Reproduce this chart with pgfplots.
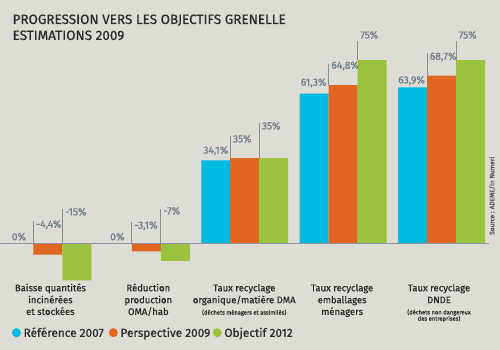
\documentclass[border=0pt]{standalone}
\usepackage{pgfplots}
\pgfplotsset{compat=1.18}
\usepackage{fontspec}
\setmainfont{Fira Sans}
\newfontfamily\medfont{Fira Sans}[FakeBold=0.5]
\newfontfamily\semfont{Fira Sans}[FakeBold=0.8]
\definecolor{bg}{HTML}{DDDCD5}
\definecolor{cyanb}{HTML}{00B9E0}
\definecolor{orangeb}{HTML}{E0651E}
\definecolor{greenb}{HTML}{9BC23C}
\definecolor{vlab}{HTML}{6F7F8C}
\definecolor{vline}{HTML}{8C8C8C}
\definecolor{zline}{HTML}{8A96A0}
\definecolor{txt}{HTML}{2B2B2B}
\newcommand\vlab[3]{\node[inner sep=0pt,anchor=west,text=vlab,font=\semfont\fontsize{10.3}{12}\selectfont] at (#1+2.5,{350-#2}) {#3};}
\newcommand\clab[3]{\node[inner sep=0pt,text=vlab,font=\semfont\fontsize{10.3}{12}\selectfont] at (#1,{350-#2}) {#3};}
\newcommand\vl[3]{\draw[vline,line width=0.8pt] (#1,{350-#2}) -- (#1,{350-#3});}
\newcommand\cat[3]{\node[inner sep=0pt,anchor=base,text=txt,font=\medfont\fontsize{9.5}{12}\selectfont] at (#1,{350-#2-3.5}) {#3};}
\newcommand\scat[3]{\node[inner sep=0pt,anchor=base,text=txt,font=\medfont\fontsize{5.8}{7}\selectfont] at (#1,{350-#2-2.1}) {#3};}
\begin{document}
\begin{tikzpicture}[x=1pt,y=1pt]
\fill[bg] (0,0) rectangle (500,350);
\begin{axis}[at={(47.5pt,106pt)}, anchor=origin, scale only axis,
  width=500pt, height=245pt,
  xmin=-0.4822, xmax=4.5939, ymin=-20, ymax=80,
  hide axis, clip=false, ybar, bar width=0.2944]
\addplot[fill=cyanb, draw=none, bar shift=-0.2944] coordinates {(0,0) (1,0) (2,34.1) (3,61.3) (4,63.9)};
\addplot[fill=orangeb, draw=none, bar shift=0] coordinates {(0,-4.4) (1,-3.1) (2,35) (3,64.8) (4,68.7)};
\addplot[fill=greenb, draw=none, bar shift=0.2944] coordinates {(0,-15) (1,-7) (2,35) (3,75) (4,75)};
\draw[zline, line width=0.9pt] (axis cs:-0.4822,0) -- (axis cs:4.482,0);
\end{axis}
% value labels
\clab{18.5}{237}{0\%}
\vl{33}{221.7}{244}\vlab{33}{225}{-4,4\%}
\vl{62}{209}{244}\vlab{62}{212}{-15\%}
\clab{117}{237}{0\%}
\vl{131.5}{222.7}{244}\vlab{131.5}{226}{-3,1\%}
\vl{160.5}{209}{244}\vlab{160.5}{211}{-7\%}
\clab{215.5}{151}{34,1\%}
\vl{230}{135.7}{158.3}\vlab{230}{139}{35\%}
\vl{259}{123}{158.3}\vlab{259}{126}{35\%}
\clab{313.5}{83}{61,3\%}
\vl{328.5}{64}{85.3}\vlab{328.5}{66}{64,8\%}
\vl{357.5}{41}{60}\vlab{357.5}{35}{75\%}
\clab{411.5}{80.7}{63,9\%}
\vl{427}{53}{76}\vlab{427}{57}{68,7\%}
\vl{456}{41}{60}\vlab{456}{35}{75\%}
% categories
\cat{50}{288}{Baisse quantités}
\cat{50}{300}{incinérées}
\cat{50}{311.7}{et stockées}
\cat{148}{288}{Réduction}
\cat{148}{300}{production}
\cat{148}{311.7}{OMA/hab}
\cat{244}{288}{Taux recyclage}
\cat{244}{300}{organique/matière DMA}
\scat{244}{312.7}{(déchets ménagers et assimilés)}
\cat{342}{288}{Taux recyclage}
\cat{342}{300}{emballages}
\cat{342}{311.7}{ménagers}
\cat{439}{288}{Taux recyclage}
\cat{439}{300}{DNDE}
\scat{439}{312.5}{(déchets non dangereux}
\scat{439}{318.8}{des entreprises)}
% legend
\fill[cyanb] (16,{350-333}) circle (4.5);
\fill[orangeb] (113,{350-333}) circle (4.5);
\fill[greenb] (217,{350-333}) circle (4.5);
\node[inner sep=0pt,anchor=base west,text=txt,font=\medfont\fontsize{11.8}{14}\selectfont] at (23,{350-337.2}) {Référence 2007};
\node[inner sep=0pt,anchor=base west,text=txt,font=\medfont\fontsize{11.8}{14}\selectfont] at (120,{350-337.2}) {Perspective 2009};
\node[inner sep=0pt,anchor=base west,text=txt,font=\medfont\fontsize{11.8}{14}\selectfont] at (224,{350-337.2}) {Objectif 2012};
% title
\node[inner sep=0pt,anchor=base west,text=txt,font=\medfont\fontsize{13.5}{16}\selectfont] at (12,{350-24}) {PROGRESSION VERS LES OBJECTIFS GRENELLE};
\node[inner sep=0pt,anchor=base west,text=txt,font=\medfont\fontsize{13.5}{16}\selectfont] at (12,{350-40}) {ESTIMATIONS 2009};
% source
\node[inner sep=0pt,rotate=90,text=txt!85,font=\medfont\fontsize{6.5}{8}\selectfont] at (492,{350-196}) {Source : ADEME/In Numeri};
\end{tikzpicture}
\end{document}
